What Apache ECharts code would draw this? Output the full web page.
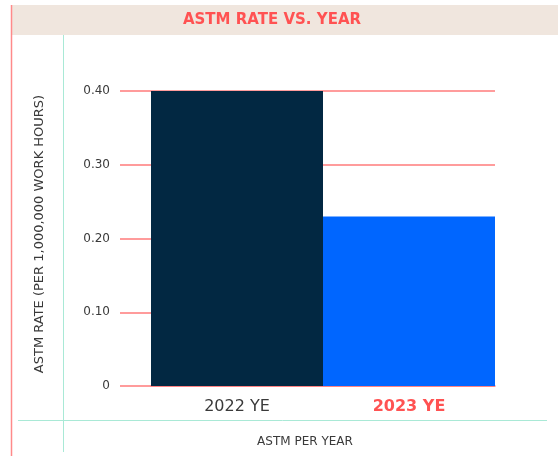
<!DOCTYPE html>
<html>
<head>
<meta charset="utf-8">
<script src="https://cdn.jsdelivr.net/npm/echarts@6/dist/echarts.min.js"></script>
<style>
  html, body { margin: 0; padding: 0; background: #fff; }
  #chart { width: 558px; height: 456px; }
</style>
</head>
<body>
<div id="chart"></div>
<script>
var categories = ['2022 YE', '2023 YE'];
var rates = [0.40, 0.23];
var barColors = ['#022842', '#0066ff'];
var yTicks = ['0', '0.10', '0.20', '0.30', '0.40'];

var FONT = '"DejaVu Sans", sans-serif';
var RED = '#ff5252';
var GRID_RED = '#ff7b7b';
var TEAL = '#a9e9d6';

var chart = echarts.init(document.getElementById('chart'));

chart.setOption({
  animation: false,
  backgroundColor: '#fff',
  grid: { left: 151, right: 63, top: 91, bottom: 70 },
  xAxis: {
    type: 'category',
    data: categories,
    axisLine: { lineStyle: { color: GRID_RED, width: 1.5 } },
    axisTick: { show: false },
    axisLabel: {
      margin: 13,
      fontFamily: FONT,
      fontSize: 16,
      formatter: function (v, i) { return i === 1 ? '{hi|' + v + '}' : '{lo|' + v + '}'; },
      rich: {
        lo: { fontFamily: FONT, fontSize: 16, color: '#3a3a3a' },
        hi: { fontFamily: FONT, fontSize: 16, fontWeight: 'bold', color: RED }
      }
    }
  },
  yAxis: {
    type: 'value',
    min: 0,
    max: 0.4,
    interval: 0.1,
    axisLine: { show: false },
    axisTick: { show: true, length: 31, lineStyle: { color: GRID_RED, width: 1.5 } },
    splitLine: { lineStyle: { color: GRID_RED, width: 1.5 } },
    axisLabel: {
      margin: 41,
      fontFamily: FONT,
      fontSize: 12,
      color: '#3a3a3a',
      formatter: function (v) { return yTicks[Math.round(v * 10)]; }
    }
  },
  series: [{
    type: 'bar',
    barCategoryGap: 0,
    data: rates.map(function (v, i) {
      return { value: v, itemStyle: { color: barColors[i] } };
    }),
    z: 3
  }],
  graphic: [
    { type: 'rect', shape: { x: 11, y: 5, width: 547, height: 30 }, style: { fill: '#f0e6de' }, z: -1 },
    { type: 'line', shape: { x1: 11.5, y1: 5, x2: 11.5, y2: 456 }, style: { stroke: '#ff8a8a', lineWidth: 1.5 } },
    { type: 'line', shape: { x1: 63.5, y1: 35, x2: 63.5, y2: 452 }, style: { stroke: TEAL, lineWidth: 1 } },
    { type: 'line', shape: { x1: 18, y1: 420.5, x2: 547, y2: 420.5 }, style: { stroke: TEAL, lineWidth: 1 } },
    {
      type: 'text', x: 272, y: 20,
      style: {
        text: 'ASTM RATE VS. YEAR', fill: RED,
        font: 'bold 15px ' + FONT, textAlign: 'center', textVerticalAlign: 'middle'
      }
    },
    {
      type: 'text', x: 305, y: 442,
      style: {
        text: 'ASTM PER YEAR', fill: '#3a3a3a',
        font: '12px ' + FONT, textAlign: 'center', textVerticalAlign: 'middle'
      }
    },
    {
      type: 'text', x: 40, y: 234, rotation: Math.PI / 2,
      style: {
        text: 'ASTM RATE (PER 1,000,000 WORK HOURS)', fill: '#3a3a3a',
        font: '13px ' + FONT, textAlign: 'center', textVerticalAlign: 'middle'
      }
    }
  ]
});
</script>
</body>
</html>
